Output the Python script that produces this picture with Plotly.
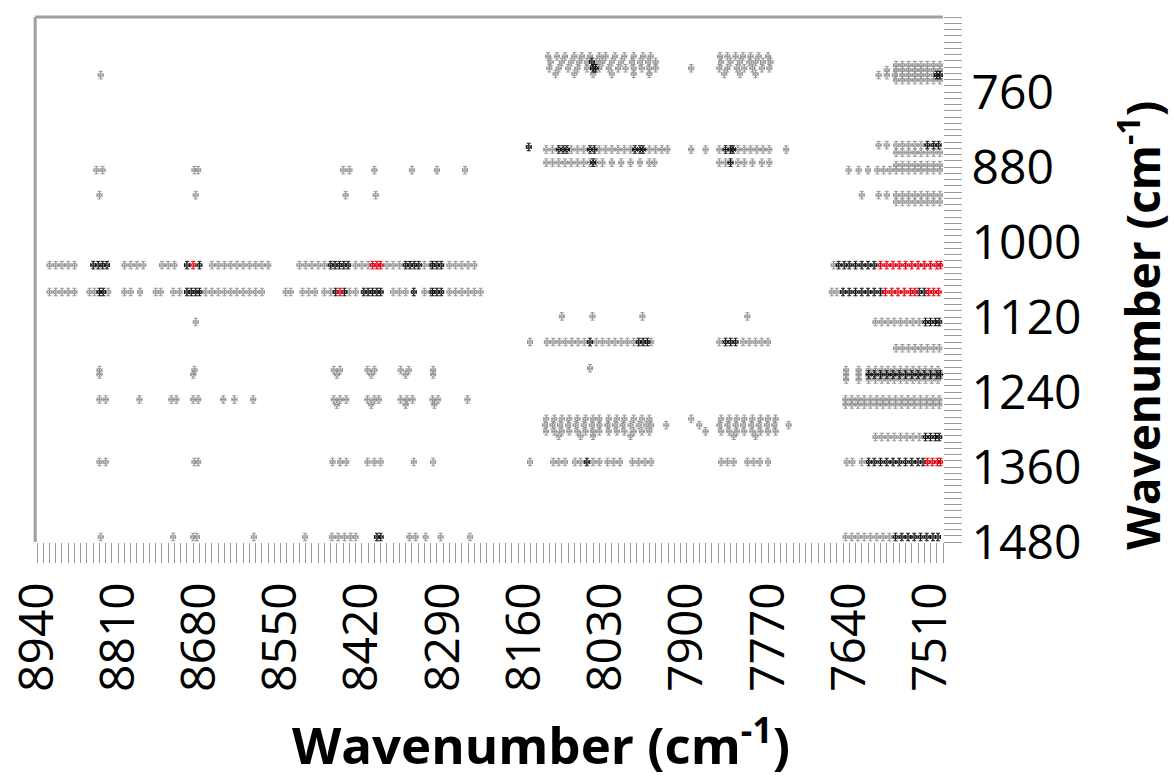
import plotly.graph_objects as go

# ---- axis ticks ----
x_tick_vals = [8940, 8810, 8680, 8550, 8420, 8290, 8160, 8030, 7900, 7770, 7640, 7510]
y_tick_vals = [760, 880, 1000, 1120, 1240, 1360, 1480]

# ---- data: x positions (cm-1) of marks on each y row (cm-1), by colour ----
# top middle cluster
r703_g = [8122, 8108, 8095, 8080, 8068, 8055, 8040, 8030, 8015, 8000, 7985, 7970, 7958,
          7847, 7835, 7822, 7810, 7798, 7785, 7770]
r712_g = [8118, 8100, 8085, 8072, 8060, 8045, 8035, 8020, 8005, 7988, 7975, 7962, 7950,
          7845, 7830, 7815, 7800, 7790, 7778, 7766]
r712_b = [8052]
r722_g = [8120, 8105, 8090, 8075, 8060, 8040, 8025, 8010, 7998, 7985, 7972, 7960, 7950,
          7893, 7848, 7835, 7820, 7808, 7795, 7780, 7768]
r722_b = [8050, 8046]
r731_g = [8110, 8080, 8050, 8020, 7985, 7960, 7840, 7815, 7790]
# top right cluster
r717_g = [7565, 7555, 7545, 7535, 7525, 7515, 7505, 7495]
r725_g = [7580, 7565, 7555, 7545, 7535, 7525, 7515, 7505, 7495]
r733_g = [8838, 7593, 7580, 7567, 7555, 7545, 7535, 7525, 7515, 7505]
r733_b = [7500, 7495]
r741_g = [7565, 7555, 7545, 7535, 7525, 7515, 7505, 7495]
# 845-885 band
r845_g = [7593, 7580, 7565, 7555, 7545, 7535, 7525]
r845_b = [7515, 7505, 7497]
r848_b = [8153]
r852_g = [8125, 8115, 8085, 8075, 8065, 8040, 8030, 8020, 8010, 8000, 7990, 7960, 7950,
          7940, 7931, 7893, 7870, 7848, 7818, 7808, 7798, 7788, 7778, 7768, 7741]
r852_b = [8105, 8098, 8092, 8055, 8048, 7983, 7975, 7970, 7838, 7830, 7826]
r857_g = [7565, 7555, 7545, 7535, 7525, 7515, 7505, 7495]
r873_g = [8125, 8115, 8105, 8095, 8085, 8075, 8065, 8055, 8045, 8035, 8020, 8005, 7990,
          7975, 7960, 7952, 7848, 7838, 7818, 7808, 7795, 7780, 7768]
r873_b = [8050, 7830]
r877_g = [7565, 7555, 7545, 7535, 7525, 7515, 7505, 7495]
r885_g = [8845, 8835, 8688, 8682, 8450, 8440, 8400, 8340, 8300, 8255,
          7641, 7625, 7610, 7595, 7585, 7575, 7565, 7555, 7545, 7535, 7525, 7515, 7505, 7495]
r925_g = [8840, 8686, 8446, 8398, 7620, 7593, 7580, 7565, 7555, 7545, 7535, 7525, 7515,
          7505, 7495]
r936_g = [7565, 7555, 7545, 7535, 7525, 7515, 7505, 7495]
# 1037 row
r1037_g = [8920, 8910, 8900, 8890, 8880, 8800, 8790, 8780, 8770, 8740, 8730, 8720,
           8660, 8650, 8640, 8630, 8620, 8610, 8600, 8590, 8580, 8570,
           8520, 8510, 8500, 8490, 8480, 8430, 8420, 8410, 8380, 8370, 8360, 8320, 8310,
           8280, 8270, 8260, 8250, 8240, 7665]
r1037_b = [8850, 8842, 8835, 8828, 8700, 8680, 8470, 8463, 8456, 8449, 8442, 8350, 8343,
           8336, 8329, 8307, 8300, 8293, 7657, 7648, 7640, 7630, 7620, 7610, 7600]
r1037_r = [8690, 8403, 8396, 8390, 7590, 7580, 7570, 7560, 7550, 7540, 7530, 7520, 7510,
           7500, 7494]
# 1080 row
r1080_g = [8920, 8910, 8900, 8890, 8880, 8856, 8848, 8826, 8800, 8790, 8775, 8750, 8742,
           8722, 8712, 8670, 8660, 8650, 8640, 8630, 8620, 8610, 8600, 8590, 8580, 8542,
           8534, 8515, 8505, 8495, 8480, 8470, 8440, 8430, 8370, 8360, 8350, 8320, 8310,
           8280, 8270, 8260, 8250, 8240, 8230, 7668, 7660]
r1080_b = [8840, 8834, 8700, 8693, 8686, 8680, 8462, 8448, 8417, 8410, 8403, 8396, 8390,
           8337, 8307, 8300, 8293, 7650, 7640, 7630, 7620, 7610, 7600, 7590, 7528, 7520]
r1080_r = [8455, 7582, 7572, 7562, 7552, 7542, 7535, 7513, 7505, 7497]
# 1119-1202
r1119_g = [8100, 8051, 7971, 7803]
r1128_g = [8686, 7598, 7588, 7578, 7568, 7558, 7548, 7538, 7528]
r1128_b = [7518, 7510, 7502, 7496]
r1160_g = [8151, 8124, 8114, 8104, 8094, 8084, 8074, 8064, 8045, 8035, 8025, 8015, 8005,
           7995, 7985, 7957, 7848, 7810, 7800, 7790, 7780, 7770]
r1160_b = [8055, 7977, 7970, 7963, 7838, 7830, 7822]
r1170_g = [7565, 7555, 7545, 7535, 7525, 7515, 7505, 7496]
r1202_g = [8055]
# 1205-1260
r1205_g = [8840, 8688, 8465, 8455, 8411, 8400, 8358, 8345, 8306, 7645, 7625, 7609, 7598,
           7588, 7578, 7568, 7558, 7548, 7538, 7528, 7518, 7508, 7498]
r1212_g = [8840, 8690, 8460, 8405, 8350, 8306, 7645, 7625]
r1212_b = [7609, 7600, 7590, 7580, 7570, 7560, 7550, 7540, 7530, 7520, 7510, 7500, 7494]
r1220_g = [7645, 7625, 7609, 7598, 7588, 7578, 7568, 7558, 7548, 7538, 7528, 7518, 7508,
           7498]
r1252_g = [8840, 8830, 8776, 8725, 8717, 8690, 8682, 8642, 8624, 8594, 8465, 8455, 8445,
           8411, 8400, 8393, 8358, 8348, 8339, 8307, 8298, 8251, 7646, 7636, 7626, 7616,
           7606, 7596, 7586, 7576, 7566, 7556, 7546, 7536, 7526, 7516, 7506, 7496]
r1260_g = [8460, 8405, 8350, 8304, 7646, 7636, 7626, 7616, 7606, 7596, 7586, 7576, 7566,
           7556, 7546, 7536, 7526, 7516, 7506, 7496]
# 1283-1312 cluster
r1283_g = [8125, 8112, 8100, 8088, 8075, 8062, 8050, 8040, 8025, 8012, 8000, 7985, 7972,
           7960, 7893, 7845, 7832, 7820, 7808, 7795, 7782, 7770, 7758]
r1293_g = [8127, 8115, 8103, 8090, 8078, 8065, 8052, 8040, 8027, 8015, 8003, 7990, 7977,
           7965, 7957, 7933, 7880, 7848, 7835, 7822, 7810, 7797, 7785, 7772, 7760, 7737]
r1303_g = [8125, 8112, 8100, 8088, 8075, 8062, 8050, 8040, 8025, 8012, 8000, 7985, 7972,
           7960, 7870, 7845, 7832, 7820, 7808, 7795, 7782, 7770, 7758]
r1310_g = [8105, 8070, 8050, 7990, 7825, 7790]
r1312_g = [7598, 7588, 7578, 7568, 7558, 7548, 7538, 7528]
r1312_b = [7518, 7510, 7502, 7496]
# 1352 row
r1352_g = [8840, 8830, 8688, 8682, 8467, 8455, 8445, 8411, 8400, 8390, 8337, 8306, 8151,
           8114, 8105, 8095, 8079, 8070, 8050, 8040, 8027, 8017, 8007, 7987, 7977, 7967,
           7957, 7845, 7835, 7825, 7803, 7793, 7783, 7770, 7644, 7635, 7620]
r1352_b = [8060, 7609, 7600, 7590, 7580, 7570, 7560, 7550, 7540, 7530, 7522]
r1352_r = [7515, 7507, 7499, 7494]
# 1472 row
r1472_g = [8838, 8722, 8690, 8684, 8593, 8511, 8468, 8458, 8448, 8438, 8430, 8344, 8334,
           8318, 8294, 8247, 7646, 7636, 7626, 7616, 7606, 7596, 7586, 7576]
r1472_b = [8396, 8390, 7566, 7556, 7546, 7536, 7526, 7516, 7506, 7498]

gray_rows = [(703, r703_g), (712, r712_g), (722, r722_g), (731, r731_g),
             (717, r717_g), (725, r725_g), (733, r733_g), (741, r741_g),
             (845, r845_g), (852, r852_g), (857, r857_g), (873, r873_g), (877, r877_g),
             (885, r885_g), (925, r925_g), (936, r936_g),
             (1037, r1037_g), (1080, r1080_g), (1119, r1119_g), (1128, r1128_g),
             (1160, r1160_g), (1170, r1170_g), (1202, r1202_g),
             (1205, r1205_g), (1212, r1212_g), (1220, r1220_g),
             (1252, r1252_g), (1260, r1260_g),
             (1283, r1283_g), (1293, r1293_g), (1303, r1303_g), (1310, r1310_g),
             (1312, r1312_g), (1352, r1352_g), (1472, r1472_g)]
black_rows = [(712, r712_b), (722, r722_b), (733, r733_b), (845, r845_b), (848, r848_b),
              (852, r852_b), (873, r873_b), (1037, r1037_b), (1080, r1080_b),
              (1128, r1128_b), (1160, r1160_b), (1212, r1212_b), (1312, r1312_b),
              (1352, r1352_b), (1472, r1472_b)]
red_rows = [(1037, r1037_r), (1080, r1080_r), (1352, r1352_r)]


def flatten(rows):
    xs, ys = [], []
    for yv, xl in rows:
        xs.extend(xl)
        ys.extend([yv] * len(xl))
    return xs, ys


fig = go.Figure()
for rows, col in [(gray_rows, "#979797"), (black_rows, "#151515"), (red_rows, "#e3000f")]:
    xs, ys = flatten(rows)
    fig.add_trace(go.Scatter(
        x=xs, y=ys, mode="markers",
        marker=dict(symbol="diamond-open", size=4, color=col, line=dict(width=1, color=col)),
        error_x=dict(type="constant", value=4, color=col, thickness=1, width=2),
        error_y=dict(type="constant", value=6, color=col, thickness=1, width=2),
        showlegend=False, hoverinfo="skip", cliponaxis=False,
    ))

tick_font = dict(family="Open Sans, sans-serif", size=48, color="black")

fig.update_layout(
    width=1174, height=783,
    margin=dict(l=37, r=231, t=17, b=241),
    paper_bgcolor="white", plot_bgcolor="white",
    xaxis=dict(
        range=[8940, 7490], tickmode="array", tickvals=x_tick_vals, automargin=False,
        ticks="outside", ticklen=20, tickcolor="#9a9a9a", tickwidth=1,
        minor=dict(ticks="outside", ticklen=20, tickcolor="#9a9a9a", tickwidth=1,
                   tick0=8940, dtick=10),
        tickangle=-90, tickfont=tick_font, showgrid=False, zeroline=False,
        showline=False,
    ),
    yaxis=dict(
        range=[1480, 640], side="right", tickmode="array", tickvals=y_tick_vals,
        automargin=False,
        ticks="outside", ticklen=18, tickcolor="#9a9a9a", tickwidth=1,
        minor=dict(ticks="outside", ticklen=18, tickcolor="#9a9a9a", tickwidth=1,
                   tick0=640, dtick=10),
        tickfont=tick_font, showgrid=False, zeroline=False, showline=False,
    ),
    shapes=[
        dict(type="line", xref="paper", yref="paper", x0=-0.002, x1=1.0, y0=1.0, y1=1.0,
             line=dict(color="#a0a0a0", width=3)),
        dict(type="line", xref="paper", yref="paper", x0=-0.002, x1=-0.002, y0=0.0, y1=1.0,
             line=dict(color="#a0a0a0", width=3)),
    ],
    annotations=[
        dict(text="<b>Wavenumber (cm<sup>-1</sup>)</b>", xref="paper", yref="paper",
             x=0.556, y=-0.38, xanchor="center", yanchor="middle", showarrow=False,
             font=dict(family="Open Sans, sans-serif", size=51, color="black")),
        dict(text="<b>Wavenumber (cm<sup>-1</sup>)</b>", xref="paper", yref="paper",
             x=1.217, y=0.413, xanchor="center", yanchor="middle", showarrow=False,
             textangle=-90,
             font=dict(family="Open Sans, sans-serif", size=46, color="black")),
    ],
)

fig.write_html("out.html", config={"displayModeBar": False},
               post_script="document.body.style.margin='0';document.body.style.padding='0';")
